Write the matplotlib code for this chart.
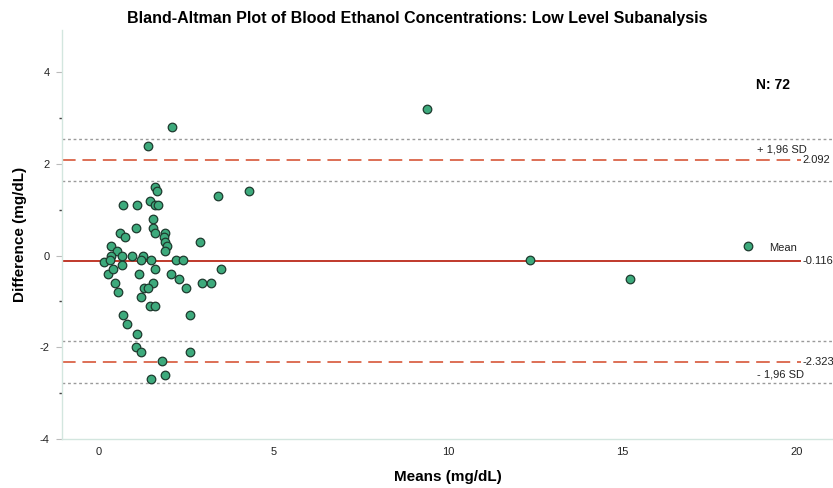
import matplotlib
matplotlib.use("Agg")
import matplotlib.pyplot as plt

plt.rcParams['font.family'] = ['Liberation Sans', 'DejaVu Sans']
plt.rcParams['axes.unicode_minus'] = False

# データ（平均値と差）
means = [9.4, 12.35, 15.2, 18.6, 4.3, 3.4, 2.1, 1.4, 1.6, 1.65,
         1.45, 0.7, 1.1, 1.6, 1.7, 1.55, 1.05, 1.55, 1.6, 0.6,
         0.75, 1.9, 1.85, 1.9, 1.95, 1.9, 2.9, 0.35, 0.5, 0.35,
         0.65, 0.95, 1.25, 0.15, 0.3, 1.2, 1.5, 2.2, 2.4, 0.25,
         0.4, 0.65, 1.15, 1.6, 2.05, 2.3, 3.5, 0.45, 0.55, 1.55,
         1.3, 1.4, 1.2, 2.5, 2.95, 3.2, 1.45, 1.6, 2.6, 0.7,
         0.8, 1.1, 1.05, 1.2, 2.6, 1.8, 1.5, 1.9]
diffs = [3.2, -0.1, -0.5, 0.2, 1.4, 1.3, 2.8, 2.4, 1.5, 1.4,
         1.2, 1.1, 1.1, 1.1, 1.1, 0.8, 0.6, 0.6, 0.5, 0.5,
         0.4, 0.5, 0.4, 0.3, 0.2, 0.1, 0.3, 0.2, 0.1, 0.0,
         0.0, 0.0, 0.0, -0.15, -0.1, -0.1, -0.1, -0.1, -0.1, -0.4,
         -0.3, -0.2, -0.4, -0.3, -0.4, -0.5, -0.3, -0.6, -0.8, -0.6,
         -0.7, -0.7, -0.9, -0.7, -0.6, -0.6, -1.1, -1.1, -1.3, -1.3,
         -1.5, -1.7, -2.0, -2.1, -2.1, -2.3, -2.7, -2.6]

mean_diff = -0.116
upper_loa = 2.092
lower_loa = -2.323
ci_half = 0.46
n_label = "N: 72"

fig = plt.figure(figsize=(8.33, 4.88), dpi=100)
ax = fig.add_axes([0.0745, 0.1004, 0.9255, 0.838])

x_min, x_max = -1.06, 21.03
line_end = 20.1

# 信頼区間（点線）
for y in [upper_loa + ci_half, upper_loa - ci_half, lower_loa + ci_half, lower_loa - ci_half]:
    ax.axhline(y, color='#9a9a9a', linestyle=(0, (2, 2)), linewidth=1.0, zorder=1)

# 平均と一致限界
ax.hlines(mean_diff, x_min, line_end, color='#c0392b', linewidth=1.4, zorder=2)
for y in [upper_loa, lower_loa]:
    ax.hlines(y, x_min, line_end, color='#dd6f55', linestyle=(0, (7, 3.5)), linewidth=1.4, zorder=2)

# 散布図
ax.scatter(means, diffs, s=38, color='#3daa7c', edgecolor='#1e3a2e', linewidth=0.9, zorder=3)

# ラベル
lab_kw = dict(fontsize=8, color='#222222', va='center')
ax.text(20.15, upper_loa, "2.092", **lab_kw)
ax.text(20.15, mean_diff, "-0.116", **lab_kw)
ax.text(20.15, lower_loa, "-2.323", **lab_kw)
ax.text(18.85, upper_loa + 0.22, "+ 1,96 SD", **lab_kw)
ax.text(18.85, lower_loa - 0.26, "- 1,96 SD", **lab_kw)
ax.text(19.2, mean_diff + 0.28, "Mean", **lab_kw)
ax.text(19.3, 3.72, n_label, fontsize=10, fontweight='bold', ha='center', va='center')

ax.set_xlim(x_min, x_max)
ax.set_ylim(-4, 4.92)
ax.set_xticks([0, 5, 10, 15, 20])
ax.set_yticks([-4, -2, 0, 2, 4])
ax.set_yticks([-3, -1, 1, 3], minor=True)
ax.tick_params(axis='x', length=0, labelsize=8, labelcolor='#222222', pad=6)
ax.tick_params(axis='y', which='major', length=4, color='#bbbbbb', labelsize=8,
               labelcolor='#222222', pad=5)
ax.tick_params(axis='y', which='minor', length=2, width=1.0, color='#444444')

for side in ['top', 'right']:
    ax.spines[side].set_visible(False)
for side in ['left', 'bottom']:
    ax.spines[side].set_color('#d3e6df')
    ax.spines[side].set_linewidth(1.0)

fig.text(0.501, 0.962, "Bland-Altman Plot of Blood Ethanol Concentrations: Low Level Subanalysis",
         ha='center', va='center', fontsize=11.5, fontweight='bold')
fig.text(0.538, 0.022, "Means (mg/dL)", ha='center', va='center', fontsize=11, fontweight='bold')
fig.text(0.024, 0.52, "Difference (mg/dL)", ha='center', va='center', rotation=90,
         fontsize=11, fontweight='bold')

fig.savefig("out.png", dpi=100)
